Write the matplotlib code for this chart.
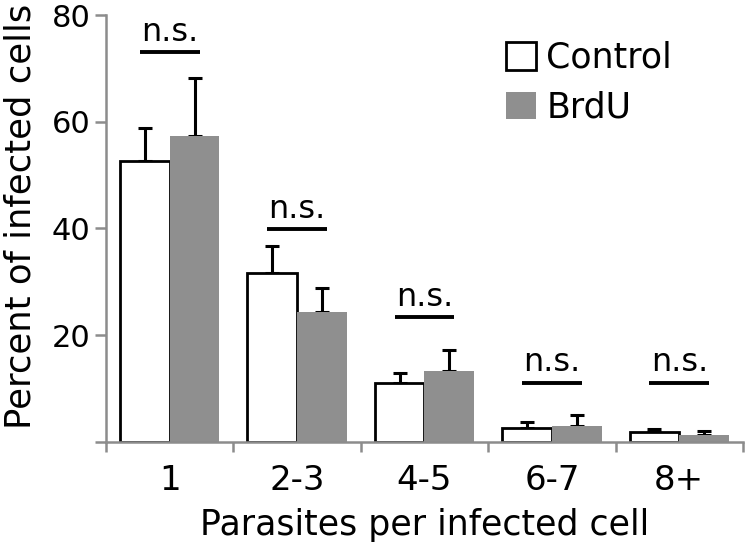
import matplotlib

matplotlib.use("Agg")
import matplotlib.pyplot as plt
from matplotlib.patches import Patch
import numpy as np

plt.rcParams["font.family"] = ["DejaVu Sans"]

# values
categories = ["1", "2-3", "4-5", "6-7", "8+"]
control_mean = [52.6, 31.6, 11.0, 2.5, 1.8]
control_err = [6.3, 5.0, 1.8, 1.2, 0.6]
brdu_mean = [57.4, 24.3, 13.3, 3.0, 1.2]
brdu_err = [10.7, 4.6, 3.9, 2.1, 0.9]
sig_height = [73.0, 39.8, 23.4, 11.1, 11.1]
sig_label = ["n.s."] * 5

GRAY_AXIS = "#8c8c8c"
GRAY_BAR = "#8f8f8f"

x = np.arange(len(categories))
w = 0.39

fig = plt.figure(figsize=(7.47, 5.46), dpi=100)
ax = fig.add_axes([0.1419, 0.191, 0.8527, 0.7815])

ax.bar(x - w / 2, control_mean, w, color="white", edgecolor="black", linewidth=2.0, zorder=2)
ax.bar(x + w / 2, brdu_mean, w, color=GRAY_BAR, edgecolor="none", zorder=2)

# upper error bars only
ax.errorbar(x - w / 2, control_mean, yerr=[np.zeros(len(x)), control_err], fmt="none",
            ecolor="black", elinewidth=2.2, capsize=5, capthick=2.2, zorder=1)
ax.errorbar(x + w / 2, brdu_mean, yerr=[np.zeros(len(x)), brdu_err], fmt="none",
            ecolor="black", elinewidth=2.2, capsize=5, capthick=2.2, zorder=1)

# significance lines
for xi, h, lab in zip(x, sig_height, sig_label):
    ax.plot([xi - 0.235, xi + 0.235], [h, h], color="black", linewidth=2.8, solid_capstyle="butt")
    ax.annotate(lab, (xi, h), xytext=(0, 3), textcoords="offset points",
                ha="center", va="bottom", fontsize=23)

ax.set_xlim(-0.5, len(categories) - 0.5)
ax.set_ylim(0, 80)
ax.set_yticks([0, 20, 40, 60, 80])
ax.set_yticklabels(["", "20", "40", "60", "80"])
ax.set_xticks(np.arange(len(categories) + 1) - 0.5)
ax.set_xticklabels([])
ax.set_xticks(x, minor=True)
ax.set_xticklabels(categories, minor=True)
ax.tick_params(axis="x", which="minor", length=0, labelsize=24.5, pad=16)
ax.tick_params(axis="x", which="major", length=7, width=1.8, color=GRAY_AXIS)
ax.tick_params(axis="y", length=8, width=1.8, color=GRAY_AXIS, labelsize=22, pad=3)

for s in ["top", "right"]:
    ax.spines[s].set_visible(False)
for s in ["left", "bottom"]:
    ax.spines[s].set_color(GRAY_AXIS)
    ax.spines[s].set_linewidth(1.8)

ax.set_xlabel("Parasites per infected cell", fontsize=25, labelpad=8)
ax.set_ylabel("Percent of infected cells", fontsize=25.5, labelpad=10, y=0.528)

handles = [Patch(facecolor="white", edgecolor="black", linewidth=2.0),
           Patch(facecolor=GRAY_BAR, edgecolor="none")]
ax.legend(handles, ["Control", "BrdU"], loc="upper left", bbox_to_anchor=(0.678, 0.925),
          bbox_transform=fig.transFigure, frameon=False, fontsize=25,
          handlelength=0.85, handleheight=0.85, handletextpad=0.3, labelspacing=0.45,
          borderpad=0, borderaxespad=0)

fig.savefig("out.png", dpi=100)
